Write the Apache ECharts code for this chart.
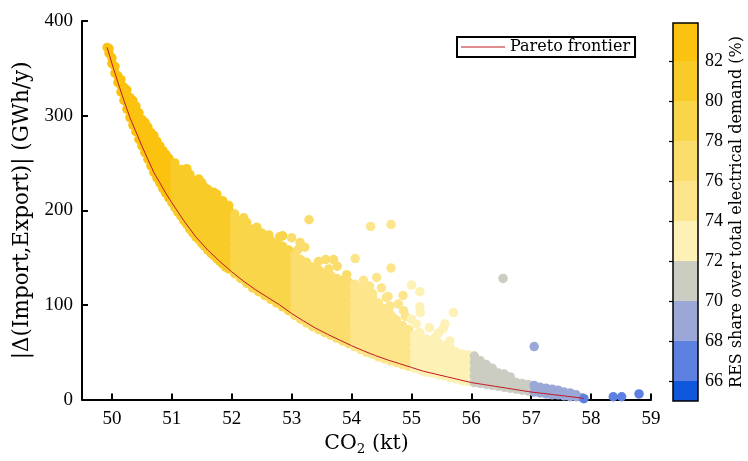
<!DOCTYPE html>
<html><head><meta charset="utf-8">
<script src="https://cdn.jsdelivr.net/npm/echarts@6/dist/echarts.min.js"></script>
<style>html,body{margin:0;padding:0;background:#fff}#c{width:748px;height:461px}</style>
</head><body><div id="c"></div>
<script>
// ---------- data ----------
const xTicks = [50, 51, 52, 53, 54, 55, 56, 57, 58, 59];
const yTicks = [0, 100, 200, 300, 400];
const cbTicks = [66, 68, 70, 72, 74, 76, 78, 80, 82];
const cbEdges = [65, 66, 68, 70, 72, 74, 76, 78, 80, 82, 83.9];

// Pareto frontier [CO2 kt, |dIE| GWh/y]
const frontier = [[49.92,372],[50.0,355],[50.1,335],[50.2,316],[50.3,298],[50.4,283],[50.5,268],[50.6,254],[50.7,240],[50.8,229],[50.9,218],[51.0,208],[51.2,189],[51.4,172],[51.6,158],[51.8,146],[52.0,135],[52.2,125],[52.4,116],[52.6,108],[52.8,100],[53.0,91],[53.2,83],[53.4,75.5],[53.6,69],[53.8,63],[54.0,57],[54.2,51.5],[54.4,46.5],[54.6,42],[54.8,38],[55.0,34],[55.2,30],[55.4,27],[55.6,24],[55.8,21],[56.0,18],[56.2,16],[56.4,14],[56.6,12],[56.8,10],[57.0,8],[57.2,6.5],[57.4,5],[57.6,3.5],[57.8,2],[57.88,1]];

// scatter columns: [x, y1, y2, ...], grouped by RES share band
const resA = 83;
const colsA = [[49.92,372],[49.95,366,371],[50.00,355,361],[50.05,345,352],[50.10,335,342],[50.15,325,332,338],[50.20,316,323,330],[50.25,307,314,321,327],[50.30,298,305,312,319],[50.35,290,297,304,311,316],[50.40,283,290,297,304,310],[50.45,275,282,289,296,303],[50.50,268,275,282,289,296],[50.55,261,268,275,282,289,293],[50.60,254,261,268,275,282,288],[50.65,247,254,261,268,275,282],[50.70,240,247,254,261,268,275,279],[50.75,234,241,248,255,262,269,273],[50.80,229,236,243,250,257,264,268],[50.85,223,230,237,244,251,258,263],[50.90,218,225,232,239,246,253,259],[50.95,213,220,227,234,241,248,255]];

const resB = 81;
const colsB = [[51.00,208],[51.05,203,210,217,224,231,238,245,250],[51.10,198],[51.15,194,201,208,215,222,229,236,243],[51.20,189],[51.25,185,192,199,206,213,220,227,234,240,244],[51.30,180,238],[51.35,176,183,190,197,204,211,218,225,232],[51.40,172],[51.45,169,176,183,190,197,204,211,218,225,229,233],[51.50,165,229],[51.55,162,169,176,183,190,197,204,211,218,224],[51.60,158,222],[51.65,155,162,169,176,183,190,197,204,211,218],[51.70,152,219],[51.75,149,156,163,170,177,184,191,198,205,212,217],[51.80,146],[51.85,143,150,157,164,171,178,185,192,199,206,210],[51.90,140,201],[51.95,138,145,152,159,166,173,180,187,194,201,205]];

const resC = 79;
const colsC = [[52.05,133,140,147,154,161,168,175,182,189,192,196],[52.15,128,135,142,149,156,163,170,177,184,188],[52.20,192],[52.25,123,130,137,144,151,158,165,172,179,184,187],[52.35,118,125,132,139,146,153,160,167,174,180],[52.42,182],[52.45,114,121,128,135,142,149,156,163,170,176],[52.50,176],[52.55,110,117,124,131,138,145,152,159,166,172],[52.62,174],[52.65,106,113,120,127,134,141,148,155,162,168],[52.75,102,109,116,123,130,137,144,151,158,165],[52.80,172],[52.85,98,105,112,119,126,133,140,147,154,162,173],[52.95,94,101,108,115,122,129,136,143,150,158]];

const resD = 77;
const colsD = [[53.00,171],[53.05,89,96,103,110,117,124,131,138,145,152],[53.10,158],[53.14,166],[53.15,85,92,99,106,113,120,127,134,141,148],[53.22,161],[53.25,81,88,95,102,109,116,123,130,137,145],[53.29,190],[53.35,77,84,91,98,105,112,119,126,133,140],[53.45,74,81,88,95,102,109,116,123,130,137,146],[53.55,71,78,85,92,99,106,113,120,127,134],[53.57,148],[53.62,138],[53.65,68,75,82,89,96,103,110,117,124,131],[53.70,148],[53.75,65,72,79,86,93,100,107,114,121,128],[53.76,141],[53.85,62,69,76,83,90,97,104,111,118,126],[53.92,132],[53.95,59,66,73,80,87,94,101,108,115,124]];

const resE = 75;
const colsE = [[54.05,56,63,70,77,84,91,98,105,112,119,122],[54.06,149],[54.15,53,60,67,74,81,88,95,102,109,116,118],[54.20,126],[54.25,50,57,64,71,78,85,92,99,106,114],[54.30,120],[54.32,183],[54.35,48,55,62,69,76,83,90,97,104,108,112],[54.42,129],[54.45,45,52,59,66,73,80,87,94,102],[54.50,118],[54.55,43,50,57,64,71,78,85,92,96],[54.58,108],[54.61,109],[54.64,99],[54.65,41,48,55,62,69,76,83,90],[54.66,139,185],[54.70,86],[54.75,39,46,53,60,67,74,81,84],[54.78,101],[54.85,37,44,51,58,65,72,78],[54.86,110],[54.87,94],[54.90,88],[54.95,35,42,49,56,63,70,74]];

const resF = 73;
const colsF = [[55.00,85,121],[55.05,33,40,47,54,61,68],[55.08,80],[55.14,71,98,114],[55.15,31,38,45,52,59,66,92],[55.20,63],[55.25,29,36,43,50,57,64],[55.30,76],[55.35,28,35,42,49,56,62],[55.40,66],[55.45,26,33,40,47,54,60,70],[55.53,75],[55.55,25,32,39,46,53,57],[55.56,80],[55.64,62],[55.65,23,30,37,44,51,55],[55.70,92],[55.75,22,29,36,43,50],[55.84,48],[55.85,20,27,34,41,48],[55.95,19,26,33,40,47]];

const resG = 71;
const colsG = [[56.05,18,25,32,39,46],[56.15,17,24,31,38,41],[56.25,16,23,30,37],[56.35,15,22,29,33],[56.45,14,21,28],[56.53,128],[56.55,13,20,27],[56.65,12,19,24],[56.75,11,18],[56.85,10,17],[56.95,9,16]];

const resH = 69;
const colsH = [[57.05,8,15,56],[57.15,7,13],[57.25,6,12],[57.35,5,11],[57.45,5,10],[57.55,4,8],[57.65,3,7],[57.75,3,5],[57.85,2]];

const resI = 67;
const colsI = [[57.88,1],[58.37,3],[58.51,3],[58.80,6]];

// ---------- styles ----------
const cbColors = ['#0F57DB','#5E80E0','#9BA8D7','#CBCDC2','#FDF1B5','#FCE58B','#FADD6C','#F9D54A','#F9CB28','#FBC20F'];
const FONT = 'Liberation Serif';
const TFONT = 'DejaVu Serif';

const groups = [[resA,colsA],[resB,colsB],[resC,colsC],[resD,colsD],[resE,colsE],[resF,colsF],[resG,colsG],[resH,colsH],[resI,colsI]];
const scatterData = [];
groups.forEach(([r, cols]) => cols.forEach(c => c.slice(1).forEach(y => scatterData.push([c[0], y, r]))));

const pieces = [];
for (let i = 0; i < cbColors.length; i++) pieces.push({gte: cbEdges[i], lt: cbEdges[i+1], color: cbColors[i]});
const bandData = [];
for (let i = 0; i < cbColors.length; i++) bandData.push([cbEdges[i], cbEdges[i+1], i]);

const chart = echarts.init(document.getElementById('c'), null, {renderer: 'canvas'});
const axisTxt = {color: '#000', fontFamily: FONT, fontSize: 19};
chart.setOption({
  animation: false,
  backgroundColor: '#fff',
  grid: [
    {left: 82, top: 21, right: 97, bottom: 60},
    {left: 673, top: 23, width: 25, height: 378, show: true, borderColor: '#000', borderWidth: 1.5, backgroundColor: 'transparent', z: 10}
  ],
  xAxis: [
    {type: 'value', gridIndex: 0, min: 49.5, max: 59,
     name: 'CO{s|2} (kt)', nameLocation: 'middle', nameGap: 29,
     nameTextStyle: {color: '#000', fontFamily: TFONT, fontSize: 20.5, rich: {s: {fontFamily: TFONT, fontSize: 13.5, verticalAlign: 'bottom', padding: [10,0,0,0]}}},
     axisLine: {lineStyle: {color: '#000', width: 2}},
     axisTick: {inside: true, length: 6, lineStyle: {color: '#000', width: 2}, customValues: xTicks},
     axisLabel: Object.assign({margin: 10, customValues: xTicks}, axisTxt),
     splitLine: {show: false}},
    {type: 'value', gridIndex: 1, min: 0, max: 1, show: false}
  ],
  yAxis: [
    {type: 'value', gridIndex: 0, min: 0, max: 400, interval: 100,
     name: '|Δ(Import,Export)| (GWh/y)', nameLocation: 'middle', nameGap: 49,
     nameTextStyle: {color: '#000', fontFamily: TFONT, fontSize: 21.5},
     axisLine: {show: true, lineStyle: {color: '#000', width: 2}},
     axisTick: {show: true, inside: true, length: 6, lineStyle: {color: '#000', width: 2}},
     axisLabel: Object.assign({margin: 9}, axisTxt),
     splitLine: {show: false}},
    {type: 'value', gridIndex: 1, position: 'right', min: 65, max: 83.9,
     name: 'RES share over total electrical demand (%)', nameLocation: 'middle', nameGap: 31, nameRotate: 90,
     nameTextStyle: {color: '#000', fontFamily: TFONT, fontSize: 16},
     axisLine: {show: false},
     axisTick: {show: true, inside: true, length: 4, lineStyle: {color: '#000', width: 1.2}, customValues: cbTicks},
     axisLabel: Object.assign({margin: 7, customValues: cbTicks}, axisTxt, {fontSize: 18}),
     splitLine: {show: false}}
  ],
  visualMap: {type: 'piecewise', show: false, dimension: 2, seriesIndex: 0, pieces: pieces},
  legend: {
    data: ['Pareto frontier'], left: 457, top: 37,
    icon: 'rect', itemWidth: 44, itemHeight: 1.2, itemGap: 0,
    borderColor: '#000', borderWidth: 2, borderRadius: 0, padding: [2, 5, 2, 4],
    textStyle: {color: '#000', fontFamily: TFONT, fontSize: 16}
  },
  series: [
    {type: 'scatter', xAxisIndex: 0, yAxisIndex: 0, data: scatterData, symbolSize: 9.5, clip: false,
     itemStyle: {opacity: 1}, z: 2},
    {type: 'line', name: 'Pareto frontier', xAxisIndex: 0, yAxisIndex: 0, data: frontier,
     showSymbol: false, symbol: 'none', color: '#C01A22', lineStyle: {color: '#C01A22', width: 1}, z: 5},
    {type: 'custom', xAxisIndex: 1, yAxisIndex: 1, data: bandData,
     renderItem: function (params, api) {
       const lo = api.value(0), hi = api.value(1), idx = api.value(2);
       const p1 = api.coord([0, hi]), p2 = api.coord([1, lo]);
       return {type: 'rect', shape: {x: p1[0], y: p1[1], width: p2[0] - p1[0], height: p2[1] - p1[1]},
               style: {fill: cbColors[idx]}};
     }, z: 2}
  ]
});
</script></body></html>
